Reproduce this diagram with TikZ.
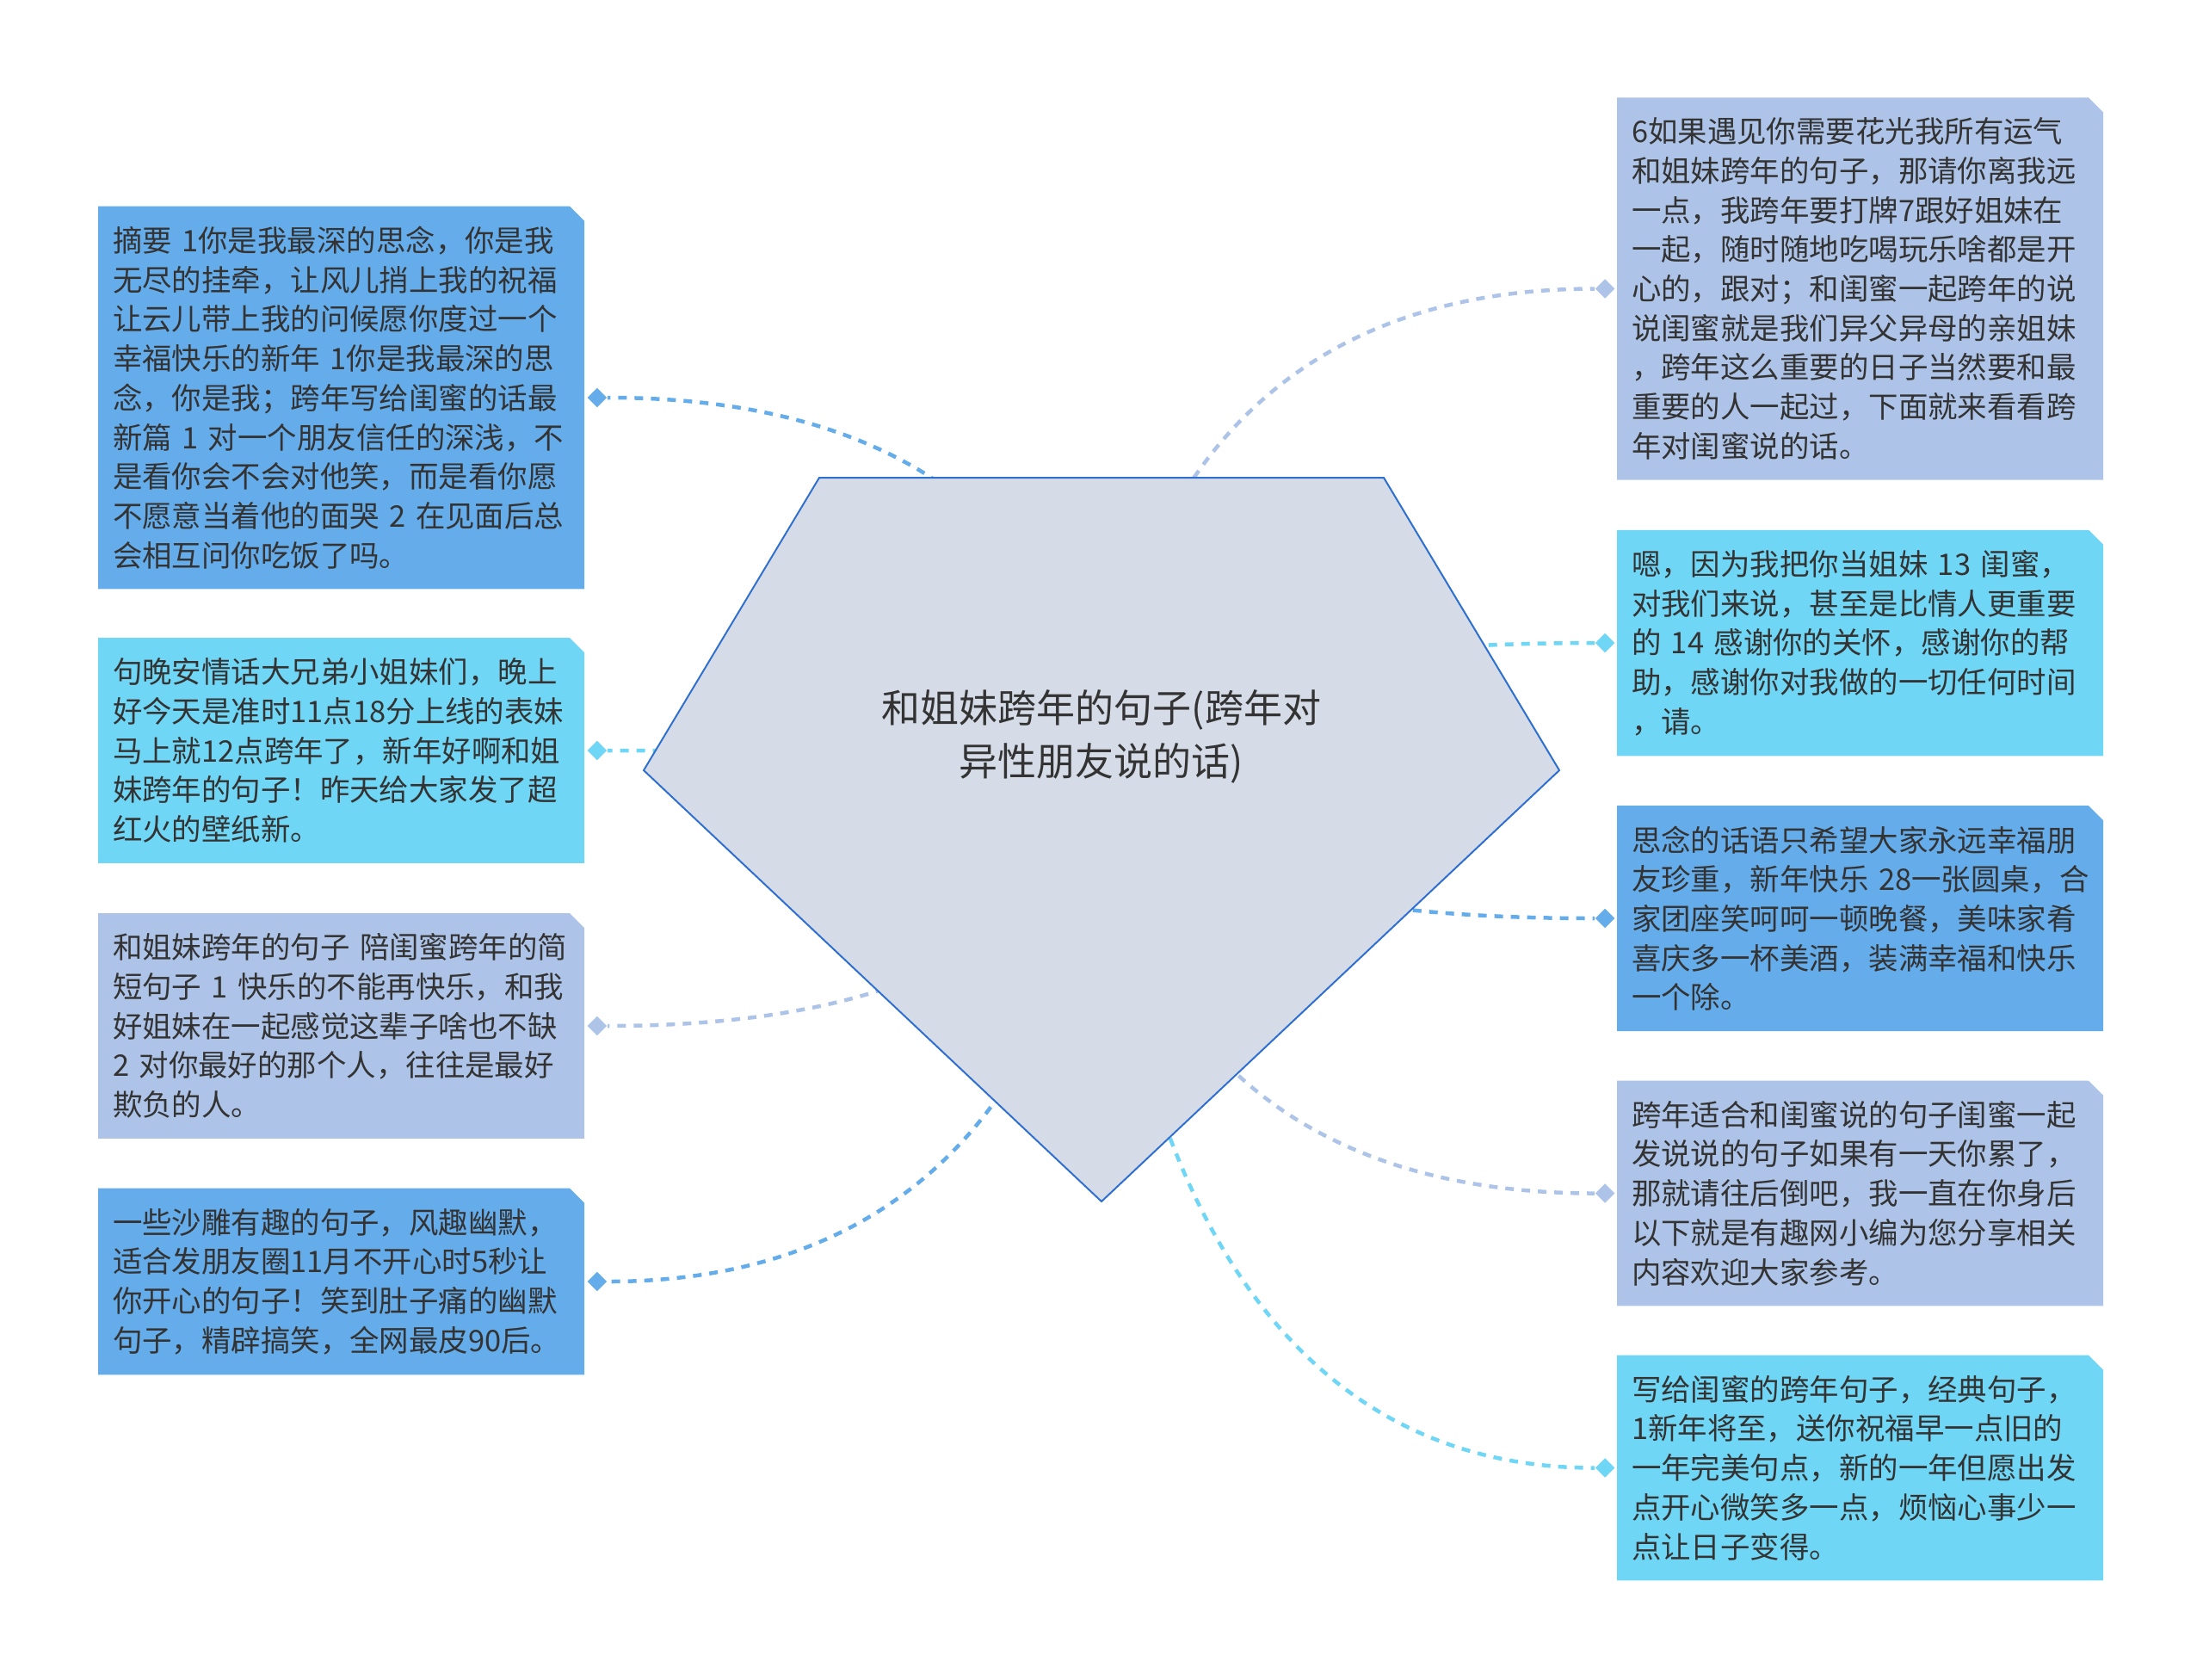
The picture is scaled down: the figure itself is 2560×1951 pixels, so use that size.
\documentclass[tikz,border=0pt]{standalone}
\usepackage{fontspec}
\setmainfont{Noto Sans CJK SC}
\usetikzlibrary{positioning,shapes.geometric,shapes.misc}
\definecolor{deep}{HTML}{65ACEB}
\definecolor{sky}{HTML}{70D6F5}
\definecolor{mist}{HTML}{ADC4E8}
\definecolor{core}{HTML}{D5DCE7}
\definecolor{rim}{HTML}{2F6FD0}
\definecolor{ink}{HTML}{333333}
\hfuzz=40pt

\begin{document}
\begin{tikzpicture}[x=0.1mm,y=-0.1mm,node distance=0.2mm,
 n/.style={chamfered rectangle,chamfered rectangle corners=north east,chamfered rectangle xsep=0.85mm,chamfered rectangle ysep=0.85mm,fill=#1,inner xsep=0.85mm,inner ysep=1.5mm,text width=53.1mm,align=left,text=ink,font=\fontsize{9.8}{13}\selectfont},
 dm/.style={diamond,fill=#1,inner sep=0pt,minimum size=2.3mm},
 a/.style={draw=#1,line width=.45mm,dash pattern=on 1mm off .9mm}]
\useasboundingbox (0,0) rectangle (2560,1951);
% boxes
\node[n=deep] (l1) at (396.5,462) {摘要 1你是我最深的思念，你是我\\无尽的挂牵，让风儿捎上我的祝福\\让云儿带上我的问候愿你度过一个\\幸福快乐的新年 1你是我最深的思\\念，你是我；跨年写给闺蜜的话最\\新篇 1 对一个朋友信任的深浅，不\\是看你会不会对他笑，而是看你愿\\不愿意当着他的面哭 2 在见面后总\\会相互问你吃饭了吗。};
\node[n=sky] (l2) at (396.5,872) {句晚安情话大兄弟小姐妹们，晚上\\好今天是准时11点18分上线的表妹\\马上就12点跨年了，新年好啊和姐\\妹跨年的句子！昨天给大家发了超\\红火的壁纸新。};
\node[n=mist] (l3) at (396.5,1192) {和姐妹跨年的句子 陪闺蜜跨年的简\\短句子 1 快乐的不能再快乐，和我\\好姐妹在一起感觉这辈子啥也不缺\\2 对你最好的那个人，往往是最好\\欺负的人。};
\node[n=deep] (l4) at (396.5,1489) {一些沙雕有趣的句子，风趣幽默，\\适合发朋友圈11月不开心时5秒让\\你开心的句子！笑到肚子痛的幽默\\句子，精辟搞笑，全网最皮90后。};
\node[n=mist] (r1) at (2161.5,335.5) {6如果遇见你需要花光我所有运气\\和姐妹跨年的句子，那请你离我远\\一点，我跨年要打牌7跟好姐妹在\\一起，随时随地吃喝玩乐啥都是开\\心的，跟对；和闺蜜一起跨年的说\\说闺蜜就是我们异父异母的亲姐妹\\，跨年这么重要的日子当然要和最\\重要的人一起过，下面就来看看跨\\年对闺蜜说的话。};
\node[n=sky] (r2) at (2161.5,747) {嗯，因为我把你当姐妹~13~闺蜜，\\对我们来说，甚至是比情人更重要\\的~14~感谢你的关怀，感谢你的帮\\助，感谢你对我做的一切任何时间\\，请。};
\node[n=deep] (r3) at (2161.5,1067) {思念的话语只希望大家永远幸福朋\\友珍重，新年快乐~28一张圆桌，合\\家团座笑呵呵一顿晚餐，美味家肴\\喜庆多一杯美酒，装满幸福和快乐\\一个除。};
\node[n=mist] (r4) at (2161.5,1386.5) {跨年适合和闺蜜说的句子闺蜜一起\\发说说的句子如果有一天你累了，\\那就请往后倒吧，我一直在你身后\\以下就是有趣网小编为您分享相关\\内容欢迎大家参考。};
\node[n=sky] (r5) at (2161.5,1705.5) {写给闺蜜的跨年句子，经典句子，\\1新年将至，送你祝福早一点旧的\\一年完美句点，新的一年但愿出发\\点开心微笑多一点，烦恼心事少一\\点让日子变得。};
% diamonds
\node[dm=deep,right=of l1] (dl1) {};
\node[dm=sky,right=of l2] (dl2) {};
\node[dm=mist,right=of l3] (dl3) {};
\node[dm=deep,right=of l4] (dl4) {};
\node[dm=mist,left=0.1mm of r1] (dr1) {};
\node[dm=sky,left=0.1mm of r2] (dr2) {};
\node[dm=deep,left=0.1mm of r3] (dr3) {};
\node[dm=mist,left=0.1mm of r4] (dr4) {};
\node[dm=sky,left=0.1mm of r5] (dr5) {};
% links
\coordinate (hub) at (1280,895);
\draw[a=deep] (hub) .. controls (hub) and (hub |- dl1) .. (dl1);
\draw[a=sky] (hub) .. controls (hub) and (hub |- dl2) .. (dl2);
\draw[a=mist] (hub) .. controls (hub) and (hub |- dl3) .. (dl3);
\draw[a=deep] (hub) .. controls (hub) and (hub |- dl4) .. (dl4);
\draw[a=mist] (hub) .. controls (hub) and (hub |- dr1) .. (dr1);
\draw[a=sky] (hub) .. controls (hub) and (hub |- dr2) .. (dr2);
\draw[a=deep] (hub) .. controls (hub) and (hub |- dr3) .. (dr3);
\draw[a=mist] (hub) .. controls (hub) and (hub |- dr4) .. (dr4);
\draw[a=sky] (hub) .. controls (hub) and (hub |- dr5) .. (dr5);
% centre
\draw[fill=core,draw=rim,line width=.2mm] (952,555) -- (1608,555) -- (1812,895) -- (1280,1396) -- (748,895) -- cycle;
\node[align=center,text=ink,font=\fontsize{12.8}{17.6}\selectfont] (root) at (1280,856) {和姐妹跨年的句子(跨年对\\异性朋友说的话)};
\end{tikzpicture}
\end{document}
